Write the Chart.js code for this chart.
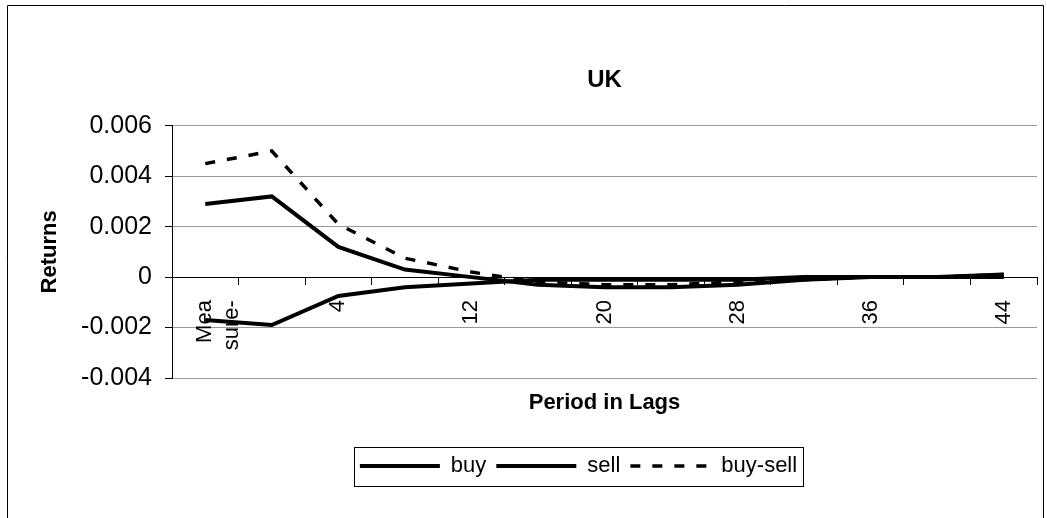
<!DOCTYPE html>
<html>
<head>
<meta charset="utf-8">
<script src="https://cdn.jsdelivr.net/npm/chart.js@4.4.0/dist/chart.umd.min.js"></script>
<style>
    html, body { margin: 0; padding: 0; background: #fff; }
    #wrap { width: 1047px; height: 518px; position: relative; }
</style>
</head>
<body>
<div id="wrap"><canvas id="ukChart"></canvas></div>
<script>
// lag categories (only every other one gets a label on the axis)
var lagLabels = ['Measure-', '1', '4', '8', '12', '16', '20', '24', '28', '32', '36', '40', '44'];
var buyReturns = [0.0029, 0.0032, 0.0012, 0.0003, 0.0000, -0.0003, -0.0004, -0.0004, -0.0003, -0.0001, 0.0000, 0.0000, 0.0001];
var sellReturns = [-0.0017, -0.0019, -0.00075, -0.0004, -0.00025, -0.0001, -0.0001, -0.0001, -0.0001, 0.0000, 0.0000, 0.0000, 0.0000];
var buySellReturns = [0.0045, 0.0050, 0.0021, 0.00075, 0.0002, -0.0002, -0.0003, -0.0003, -0.0002, -0.0001, 0.0000, 0.0000, 0.0001];
var yTicks = [-0.004, -0.002, 0, 0.002, 0.004, 0.006];

Chart.defaults.font.family = "'Liberation Sans', Arial, sans-serif";
Chart.defaults.color = '#000';

// thin frame round the whole picture + box round the legend
var framePlugin = {
    id: 'framePlugin',
    afterLayout: function (chart) {
        // legend sits a bit left of the plot centre in the original
        chart.legend.left -= 26;
        chart.legend.right -= 26;
    },
    afterDraw: function (chart) {
        var ctx = chart.ctx;
        ctx.save();
        ctx.strokeStyle = '#000';
        ctx.lineWidth = 1;
        ctx.beginPath();
        ctx.moveTo(7.5, 518);
        ctx.lineTo(7.5, 5.5);
        ctx.lineTo(1043.5, 5.5);
        ctx.lineTo(1043.5, 518);
        ctx.stroke();

        var boxes = chart.legend.legendHitBoxes;
        if (boxes && boxes.length) {
            var l = boxes[0].left, r = 0, t = boxes[0].top, h = boxes[0].height;
            boxes.forEach(function (b) {
                l = Math.min(l, b.left);
                r = Math.max(r, b.left + b.width);
            });
            ctx.strokeRect(Math.round(l - 6) + 0.5, Math.round(t - 8) + 0.5, Math.round(r - l + 12), Math.round(h + 17));
        }
        ctx.restore();
    }
};

function makeSet(label, data, width, dash) {
    return {
        label: label,
        data: data,
        borderColor: '#000',
        backgroundColor: '#000',
        borderWidth: width,
        borderDash: dash,
        pointRadius: 0,
        tension: 0,
        fill: false
    };
}

var ctx = document.getElementById('ukChart').getContext('2d');
var ukChart = new Chart(ctx, {
    type: 'line',
    data: {
        labels: lagLabels,
        datasets: [
            makeSet('buy', buyReturns, 4, []),
            makeSet('sell', sellReturns, 4, []),
            makeSet('buy-sell', buySellReturns, 3.5, [10, 12])
        ]
    },
    options: {
        responsive: true,
        maintainAspectRatio: false,
        animation: false,
        layout: { padding: { left: 10, right: 10, top: 0, bottom: 31 } },
        plugins: {
            title: {
                display: true,
                text: 'UK',
                fullSize: false,
                font: { size: 24, weight: 'bold' },
                padding: { top: 66, bottom: 31 }
            },
            legend: {
                position: 'bottom',
                fullSize: false,
                labels: {
                    usePointStyle: true,
                    pointStyleWidth: 80,
                    padding: 10,
                    font: { size: 22 },
                    generateLabels: function (chart) {
                        return chart.data.datasets.map(function (ds, i) {
                            return {
                                text: ds.label,
                                datasetIndex: i,
                                pointStyle: 'line',
                                strokeStyle: '#000',
                                fillStyle: 'transparent',
                                lineWidth: ds.borderWidth,
                                lineDash: ds.borderDash,
                                fontColor: '#000'
                            };
                        });
                    }
                }
            },
            tooltip: { enabled: false }
        },
        scales: {
            x: {
                type: 'category',
                position: { y: 0 },
                offset: true,
                grid: { offset: true, drawOnChartArea: false, tickLength: 7, color: '#000' },
                border: { display: true, color: '#000', width: 1 },
                ticks: {
                    autoSkip: false,
                    minRotation: 90,
                    maxRotation: 90,
                    padding: 16,
                    font: { size: 22 },
                    callback: function (val, idx) {
                        if (idx % 2 === 1) return '';
                        if (idx === 0) return ['Mea', 'sure-'];
                        return this.getLabelForValue(val);
                    }
                }
            },
            x2: {
                type: 'category',
                labels: lagLabels,
                position: 'bottom',
                offset: true,
                grid: { display: false },
                border: { display: false },
                ticks: { display: false },
                title: {
                    display: true,
                    text: 'Period in Lags',
                    font: { size: 22, weight: 'bold' },
                    padding: { top: 0, bottom: 29 }
                },
                afterFit: function (scale) { scale.height = 67; }
            },
            y: {
                min: -0.004,
                max: 0.006,
                afterBuildTicks: function (scale) {
                    scale.ticks = yTicks.map(function (v) { return { value: v }; });
                },
                grid: { color: '#999', tickColor: '#000', tickLength: 7 },
                border: { display: true, color: '#000', width: 1 },
                ticks: {
                    padding: 13,
                    font: { size: 25 },
                    callback: function (v) { return String(Number(v.toFixed(3))); }
                },
                title: {
                    display: true,
                    text: 'Returns',
                    font: { size: 22, weight: 'bold' },
                    padding: { top: 27, bottom: 0 }
                },
                afterFit: function (scale) { scale.width = 162; }
            }
        }
    },
    plugins: [framePlugin]
});
</script>
</body>
</html>
